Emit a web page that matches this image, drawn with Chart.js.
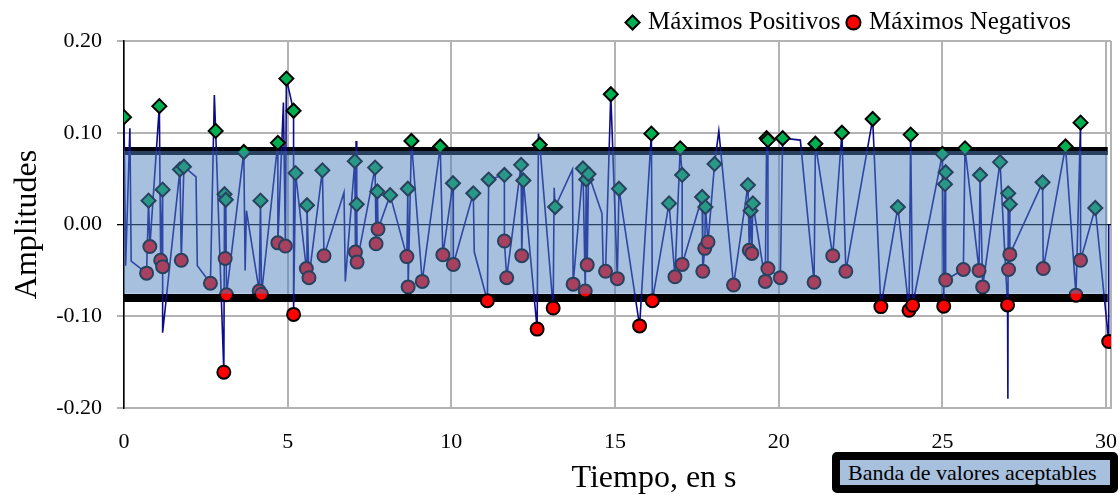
<!DOCTYPE html>
<html>
<head>
<meta charset="utf-8">
<title>Máximos positivos y negativos</title>
<script src="https://cdn.jsdelivr.net/npm/chart.js@4.4.1/dist/chart.umd.min.js"></script>
<style>
  body { margin: 0; background: #fff; }
  #wrap { position: relative; width: 1120px; height: 495px; }
  #chart { position: absolute; left: 0; top: 0; }
  #xTitle {
    position: absolute; left: 454px; top: 456px; width: 400px;
    text-align: center; font: 32px 'Liberation Serif', serif; line-height: 40px; color: #000;
  }
  #bandKey {
    position: absolute; left: 832px; top: 452px; width: 286px; height: 41px;
    box-sizing: border-box; border: 8px solid #000; border-radius: 5px;
    background: #a7c0de; padding-left: 8px;
    font: 22px 'Liberation Serif', serif; line-height: 25px; color: #000; white-space: nowrap;
  }
</style>
</head>
<body>
<div id="wrap">
  <canvas id="chart" width="1120" height="495"></canvas>
  <div id="xTitle">Tiempo, en s</div>
  <div id="bandKey">Banda de valores aceptables</div>
</div>
<script>
// positive peaks (s, amplitude)
const posX = [0.00, 0.75, 1.08, 1.18, 1.71, 1.83, 2.80, 3.07, 3.11, 3.66, 4.17, 4.70, 4.96, 5.18, 5.24, 5.59,
  6.06, 7.05, 7.11, 7.67, 7.74, 8.13, 8.67, 8.78, 9.66, 10.05, 10.67, 11.14, 11.62, 12.13, 12.20, 12.70,
  13.17, 14.02, 14.12, 14.19, 14.87, 15.12, 16.11, 16.65, 16.99, 17.05, 17.66, 17.76, 18.04, 19.06, 19.14,
  19.21, 19.63, 19.67, 20.12, 21.12, 21.93, 22.87, 23.64, 24.03, 25.00, 25.08, 25.10, 25.69, 26.15, 26.76,
  27.01, 27.06, 28.06, 28.76, 29.22, 29.67];
const posY = [0.117, 0.026, 0.129, 0.038, 0.060, 0.063, 0.102, 0.033, 0.027, 0.079, 0.026, 0.089, 0.159, 0.124, 0.056, 0.021,
  0.059, 0.069, 0.022, 0.062, 0.036, 0.032, 0.039, 0.091, 0.085, 0.045, 0.034, 0.049, 0.054, 0.065, 0.048, 0.087,
  0.019, 0.061, 0.049, 0.055, 0.142, 0.039, 0.099, 0.023, 0.083, 0.054, 0.030, 0.019, 0.066, 0.043, 0.015,
  0.023, 0.094, 0.092, 0.094, 0.088, 0.100, 0.115, 0.019, 0.098, 0.077, 0.044, 0.057, 0.083, 0.054, 0.068,
  0.034, 0.022, 0.046, 0.085, 0.111, 0.018];

// negative peaks
const negX = [0.69, 0.79, 1.12, 1.18, 1.75, 2.64, 3.05, 3.09, 3.13, 4.13, 4.20, 4.70, 4.93, 5.18, 5.57, 5.65,
  6.11, 7.07, 7.12, 7.70, 7.76, 8.64, 8.68, 9.11, 9.74, 10.06, 11.10, 11.62, 11.69, 12.15, 12.62, 13.11,
  13.72, 14.09, 14.15, 14.71, 15.07, 15.75, 16.14, 16.83, 17.05, 17.68, 17.74, 17.84, 18.62, 19.10, 19.18,
  19.59, 19.67, 20.05, 21.08, 21.65, 22.05, 23.12, 23.98, 24.09, 25.04, 25.10, 25.64, 26.12, 26.23, 26.99,
  27.02, 27.06, 28.08, 29.08, 29.22, 30.08];
const negY = [-0.053, -0.024, -0.039, -0.046, -0.039, -0.064, -0.161, -0.037, -0.0765, -0.0725, -0.076, -0.020, -0.0235, -0.098, -0.048, -0.058,
  -0.034, -0.030, -0.041, -0.021, -0.005, -0.035, -0.068, -0.062, -0.033, -0.0435, -0.083, -0.018, -0.058, -0.034, -0.114, -0.091,
  -0.065, -0.0725, -0.044, -0.051, -0.059, -0.1105, -0.083, -0.057, -0.0435, -0.051, -0.026, -0.019, -0.066, -0.028, -0.0315,
  -0.062, -0.048, -0.058, -0.063, -0.034, -0.051, -0.0895, -0.0935, -0.088, -0.089, -0.0605, -0.049, -0.050, -0.068, -0.0877,
  -0.049, -0.0326, -0.048, -0.077, -0.039, -0.1275];

// other turning points of the signal that carry no marker
const spikeX = [0.05, 0.18, 0.22, 1.18, 2.20, 2.24, 2.76, 3.70, 3.74, 4.87, 6.72, 6.76, 7.09, 10.70, 12.66,
  13.14, 13.70, 14.60, 14.64, 18.17, 20.66, 27.00, 30.08];
const spikeY = [-0.045, 0.105, -0.040, -0.118, 0.052, -0.045, 0.141, -0.050, 0.015, 0.133, 0.035, -0.062, 0.091, -0.030, 0.099,
  0.040, 0.060, 0.012, -0.050, 0.102, 0.092, -0.190, 0.000];

// acceptable band
const bandHi = 0.08;
const bandLo = -0.08;
const bandEnd = 30.05;

// axes
const xMax = 30.15;
const xTicks = [0, 5, 10, 15, 20, 25, 30, xMax];
const xTickLabels = ['0', '5', '10', '15', '20', '25', '30', ''];
const yTicks = [-0.2, -0.1, 0, 0.1, 0.2];
const yTickLabels = ['-0.20', '-0.10', '0.00', '0.10', '0.20'];

const serif = "'Liberation Serif', 'Times New Roman', serif";

const pts = (xs, ys) => xs.map((x, i) => ({ x: x, y: ys[i] }));

// signal passes through every peak
const signal = pts(posX, posY).concat(pts(negX, negY), pts(spikeX, spikeY)).sort((a, b) => a.x - b.x);

// move the legend a bit away from the right edge
const legendInset = 30;
const legendShift = {
    id: 'legendShift',
    afterLayout: (chart) => {
        chart.legend.right -= legendInset;
    }
};

new Chart(document.getElementById('chart'), {
    type: 'scatter',
    data: {
        datasets: [{
            label: 'Máximos Positivos',
            data: pts(posX, posY),
            pointStyle: 'rectRot',
            pointRadius: 7,
            backgroundColor: '#00b050',
            borderColor: '#000',
            borderWidth: 2,
            order: 2
        }, {
            label: 'Máximos Negativos',
            data: pts(negX, negY),
            pointStyle: 'circle',
            pointRadius: 6.5,
            backgroundColor: '#ff0000',
            borderColor: '#000',
            borderWidth: 2,
            order: 3
        }, {
            label: 'Señal',
            type: 'line',
            showLine: true,
            data: signal,
            borderColor: '#0c0c8a',
            borderWidth: 1.6,
            pointRadius: 0,
            fill: false,
            order: 4
        }, {
            label: 'Límite superior',
            type: 'line',
            showLine: true,
            data: [{ x: 0, y: bandHi }, { x: bandEnd, y: bandHi }],
            borderColor: '#000',
            borderWidth: 8,
            pointRadius: 0,
            fill: false,
            order: 5
        }, {
            label: 'Límite inferior',
            type: 'line',
            showLine: true,
            data: [{ x: 0, y: bandLo }, { x: bandEnd, y: bandLo }],
            borderColor: '#000',
            borderWidth: 8,
            pointRadius: 0,
            fill: false,
            order: 5
        }, {
            label: 'Banda de valores aceptables',
            type: 'line',
            showLine: true,
            data: [{ x: 0, y: bandHi }, { x: bandEnd, y: bandHi }],
            borderColor: 'transparent',
            borderWidth: 1,
            pointRadius: 0,
            fill: { value: bandLo + 0.0045 },
            backgroundColor: 'rgba(79,129,189,0.5)',
            order: 0
        }]
    },
    options: {
        responsive: false,
        animation: false,
        events: [],
        layout: { padding: { left: 0, right: 9, top: 0, bottom: 0 } },
        plugins: {
            tooltip: { enabled: false },
            legend: {
                position: 'top',
                align: 'end',
                maxHeight: 41,
                labels: {
                    filter: (item) => item.datasetIndex < 2,
                    usePointStyle: true,
                    boxWidth: 6,
                    boxHeight: 10,
                    padding: 10,
                    color: '#000',
                    font: { family: serif, size: 25 }
                }
            }
        },
        scales: {
            x: {
                type: 'linear',
                min: 0,
                max: xMax,
                afterBuildTicks: (s) => { s.ticks = xTicks.map(v => ({ value: v })); },
                afterFit: (s) => { s.height = 87; },
                grid: { color: '#b3b3b3', lineWidth: 2, drawTicks: true, tickLength: 21, tickColor: 'transparent' },
                border: { color: '#b3b3b3', width: 2 },
                ticks: {
                    padding: 0,
                    color: '#000',
                    font: { family: serif, size: 22 },
                    maxRotation: 0,
                    autoSkip: false,
                    callback: (v, i) => xTickLabels[i]
                }
            },
            y: {
                min: -0.2,
                max: 0.2,
                afterBuildTicks: (s) => { s.ticks = yTicks.map(v => ({ value: v })); },
                afterFit: (s) => { s.width = 124; },
                grid: {
                    color: (c) => c.tick && c.tick.value === 0 ? '#000' : '#b3b3b3',
                    lineWidth: (c) => c.tick && c.tick.value === 0 ? 1.3 : 2,
                    tickLength: 7
                },
                border: { color: '#000', width: 1.5 },
                ticks: {
                    padding: 15,
                    color: '#000',
                    font: { family: serif, size: 22 },
                    autoSkip: false,
                    callback: (v, i) => yTickLabels[i]
                },
                title: {
                    display: true,
                    text: 'Amplitudes',
                    color: '#000',
                    font: { family: serif, size: 32 },
                    padding: { top: 8, bottom: 0 }
                }
            }
        }
    },
    plugins: [legendShift]
});
</script>
</body>
</html>
